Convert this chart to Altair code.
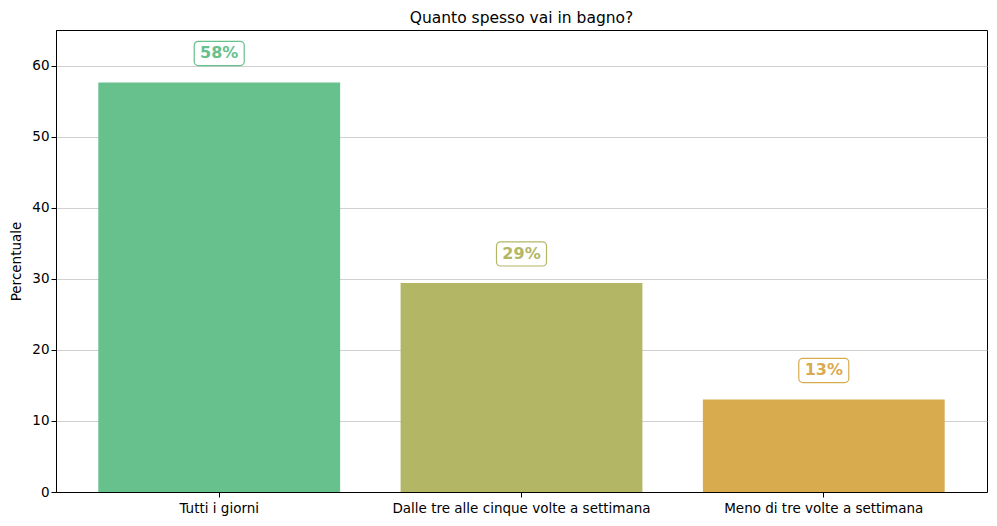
import altair as alt
import pandas as pd

CATEGORIES = ["Tutti i giorni", "Dalle tre alle cinque volte a settimana", "Meno di tre volte a settimana"]
VALUES = [57.6, 29.4, 13.0]
COLORS = ["#66c18c", "#b3b665", "#d9ab4f"]
Y_TICKS = [0, 10, 20, 30, 40, 50, 60]

FONT = "DejaVu Sans"

df = pd.DataFrame({"cat": CATEGORIES, "value": VALUES})

x_enc = alt.X("cat:N", sort=CATEGORIES, title=None,
              scale=alt.Scale(paddingInner=0.2, paddingOuter=0.14),
              axis=alt.Axis(labelAngle=0, labelFontSize=13.5, labelColor="black", labelLimit=0,
                            tickColor="black", tickSize=5, domainColor="black",
                            labelPadding=4, labelFont=FONT))
y_scale = alt.Scale(domain=[0, 65], nice=False)
color_enc = alt.Color("cat:N", scale=alt.Scale(domain=CATEGORIES, range=COLORS), legend=None)

base = alt.Chart(df).transform_calculate(
    label="format(round(datum.value), 'd') + '%'",
    ly="datum.value + 4.1",
    ly_top="datum.value + 4.1 + 1.7",
    ly_bot="datum.value + 4.1 - 1.7",
)

bars = base.mark_bar(opacity=1).encode(
    x=x_enc,
    y=alt.Y("value:Q", scale=y_scale, title="Percentuale",
            axis=alt.Axis(values=Y_TICKS, grid=True, gridColor="#c4c4c4", gridWidth=0.8,
                          labelFontSize=13.5, labelColor="black", tickColor="black", tickSize=5,
                          domainColor="black", titleFontSize=13.5, titleFontWeight="normal",
                          titleColor="black", labelFont=FONT, titleFont=FONT, titlePadding=8)),
    color=color_enc,
)

boxes = base.mark_bar(width=50, fill="white", strokeWidth=1.2, cornerRadius=4).encode(
    x=alt.X("cat:N", sort=CATEGORIES),
    y=alt.Y("ly_bot:Q", scale=y_scale),
    y2="ly_top:Q",
    stroke=color_enc,
)

labels = base.mark_text(fontWeight="bold", fontSize=16, font=FONT, baseline="middle").encode(
    x=alt.X("cat:N", sort=CATEGORIES),
    y=alt.Y("ly:Q", scale=y_scale),
    text="label:N",
    color=color_enc,
)

chart = alt.layer(bars, boxes, labels).properties(
    width=931,
    height=462,
    title=alt.TitleParams("Quanto spesso vai in bagno?", fontSize=15.5, fontWeight="normal",
                          font=FONT, color="black", offset=4),
    autosize=alt.AutoSizeParams(type="none"),
    padding={"left": 48, "top": 22, "right": 2, "bottom": 26},
).configure_view(
    stroke="black", strokeWidth=1
).configure_axis(
    gridOpacity=1
)

chart.save("out.html", embed_options={"renderer": "svg", "actions": False})
